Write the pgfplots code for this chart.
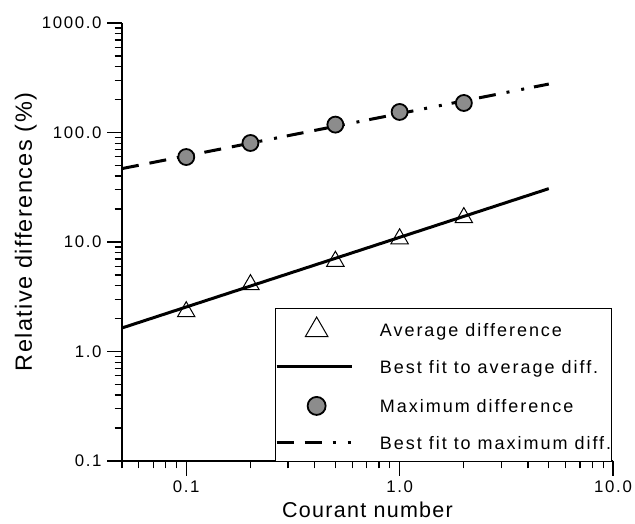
\documentclass[border=0pt]{standalone}
\usepackage{fontspec}
\setmainfont{Liberation Sans}
\newfontfamily\labelfont{Liberation Sans}[LetterSpace=6]
\newfontfamily\tickfont{Liberation Sans}[LetterSpace=10]
\newfontfamily\legfont{Liberation Sans}[LetterSpace=11]
\usepackage{pgfplots}
\pgfplotsset{compat=1.18}
\pgfplotsset{
  markimg/.style={legend image code/.code={\path[draw=none] (0pt,0pt) -- (75pt,0pt); \draw[##1] plot coordinates {(40pt,2pt)};}},
  lineimg/.style={legend image code/.code={\draw[##1] (0pt,2pt) -- (75pt,2pt);}},
}
\tikzset{maxdash/.style={dash pattern=on 17pt off 11pt on 17pt off 11pt on 3pt off 12pt on 3pt off 10pt}}
\begin{document}
\begin{tikzpicture}
\useasboundingbox (-122pt,-63pt) rectangle (513pt,461pt);
\begin{axis}[
  scale only axis, width=491pt, height=438pt,
  xmode=log, ymode=log,
  xmin=0.05, xmax=10, ymin=0.1, ymax=1000,
  axis lines=left, axis line style={line width=1.5pt, -},
  tick align=outside, major tick length=15pt, minor tick length=7.5pt,
  tick style={line width=1.2pt, black},
  xtick={0.1,1,10}, xticklabels={0.1,1.0,10.0},
  ytick={0.1,1,10,100,1000}, yticklabels={0.1,1.0,10.0,100.0,1000.0},
  minor xtick={0.05,0.06,0.07,0.08,0.09,0.2,0.3,0.4,0.5,0.6,0.7,0.8,0.9,2,3,4,5,6,7,8,9},
  minor ytick={0.2,0.3,0.4,0.5,0.6,0.7,0.8,0.9,2,3,4,5,6,7,8,9,20,30,40,50,60,70,80,90,200,300,400,500,600,700,800,900},
  tick label style={font=\tickfont\fontsize{16.8}{20}\selectfont},
  xticklabel style={anchor=base, yshift=-17pt},
  yticklabel style={anchor=east, xshift=-2pt},
  xlabel={Courant number},
  ylabel={Relative differences (\%)},
  xlabel style={font=\labelfont\fontsize{21.5}{25}\selectfont, at={(axis description cs:0.5,-0.130)}, anchor=base},
  ylabel style={font=\labelfont\fontsize{23.5}{27}\selectfont, at={(axis description cs:-0.1833,0.523)}, anchor=base},
  legend style={at={(rel axis cs:0.3116,0.349)}, anchor=north west, draw=black, line width=0.8pt,
    inner xsep=0pt, inner ysep=8.5pt, row sep=19.7pt, column sep=27pt,
    font=\legfont\fontsize{18}{21}\selectfont,
    nodes={inner sep=0pt, text height=13pt, text depth=4pt}},
  legend cell align=left,
]
% best fit lines
\addplot[forget plot, black, line width=3pt] coordinates {(0.05,1.64) (5,30.7)};
\addplot[forget plot, black, line width=3pt, maxdash] coordinates {(0.05,46.8) (5,277)};
% average difference
\addplot[forget plot, only marks, mark=triangle, mark size=10pt, mark options={line width=1pt, fill=none}, black]
  coordinates {(0.1,2.31) (0.2,4.08) (0.5,6.67) (1.0,10.7) (2.0,16.7)};
% maximum difference
\addplot[forget plot, only marks, mark=*, mark size=8pt, mark options={line width=1.8pt, draw=black, fill=black!45}]
  coordinates {(0.1,59.7) (0.2,80.2) (0.5,118) (1.0,154) (2.0,186)};
% legend
\addlegendimage{only marks, mark=triangle, mark size=13pt, mark options={line width=1pt, fill=none}, black, markimg}
\addlegendentry{Average difference}
\addlegendimage{black, line width=2.5pt, lineimg}
\addlegendentry{Best fit to average diff.}
\addlegendimage{only marks, mark=*, mark size=9pt, mark options={line width=1.8pt, draw=black, fill=black!45}, markimg}
\addlegendentry{Maximum difference}
\addlegendimage{black, line width=2.5pt, maxdash, lineimg}
\addlegendentry{Best fit to maximum diff.}
\end{axis}
\end{tikzpicture}
\end{document}
